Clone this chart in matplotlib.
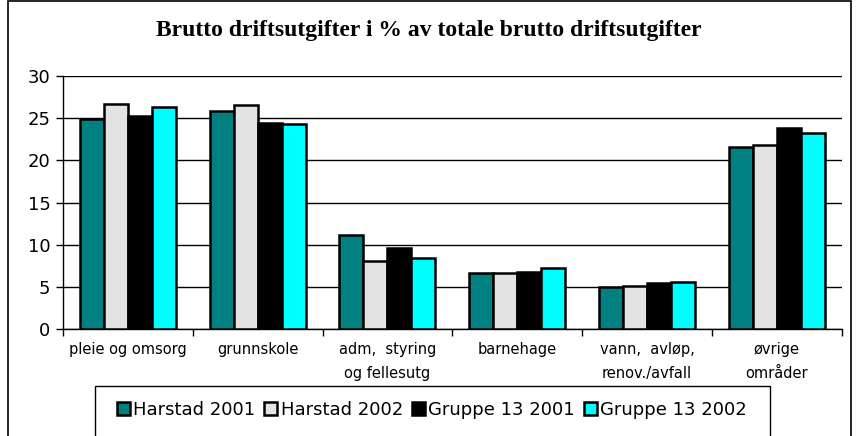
import matplotlib
matplotlib.use("Agg")
from matplotlib import pyplot as plt
from matplotlib.patches import Rectangle
import numpy as np

kategorier = ["pleie og omsorg", "grunnskole", "adm,  styring\nog fellesutg",
              "barnehage", "vann,  avløp,\nrenov./avfall", "øvrige\nområder"]
serier = ["Harstad 2001", "Harstad 2002", "Gruppe 13 2001", "Gruppe 13 2002"]
harstad_2001 = [24.9, 25.9, 11.2, 6.6, 5.0, 21.6]
harstad_2002 = [26.7, 26.6, 8.1, 6.6, 5.1, 21.8]
gruppe13_2001 = [25.2, 24.4, 9.6, 6.8, 5.4, 23.8]
gruppe13_2002 = [26.3, 24.3, 8.4, 7.2, 5.6, 23.2]
farger = ["#008080", "#E3E3E3", "#000000", "#00FFFF"]

fig = plt.figure(figsize=(8.58, 4.36), dpi=100)
ax = fig.add_axes([0.0734, 0.2454, 0.9076, 0.5803])

x = np.arange(len(kategorier))
bredde = 0.185
verdier = [harstad_2001, harstad_2002, gruppe13_2001, gruppe13_2002]
for i in range(4):
    ax.bar(x + (i - 1.5) * bredde, verdier[i], bredde, color=farger[i],
           edgecolor="black", linewidth=1.8, label=serier[i], zorder=3)

ax.set_xlim(-0.5, len(kategorier) - 0.5)
ax.set_ylim(0, 30)
ax.set_yticks(range(0, 31, 5))
ax.yaxis.grid(True, color="black", linewidth=1.0, zorder=0)
for s in ["top", "right"]:
    ax.spines[s].set_visible(False)
ax.spines["left"].set_linewidth(1.0)
ax.spines["bottom"].set_linewidth(1.0)
ax.tick_params(axis="y", direction="out", length=5, width=1,
               labelsize=13, pad=4)

# kategorietiketter mellom grensemerkene
ax.set_xticks(np.arange(-0.5, len(kategorier), 1.0))
ax.set_xticklabels([])
ax.tick_params(axis="x", direction="out", length=5, width=1)
ax.set_xticks(x, minor=True)
ax.set_xticklabels(kategorier, minor=True, fontsize=10.5, linespacing=1.75,
                   va="top")
ax.tick_params(axis="x", which="minor", length=0, pad=9)

fig.text(0.5, 0.93, "Brutto driftsutgifter i % av totale brutto driftsutgifter",
         ha="center", va="center", fontsize=17, fontweight="bold",
         family="Liberation Serif")

# ramme rundt figuren
fig.patches.append(Rectangle((8 / 858, -0.1), (851 - 8) / 858, 1.1 - 1 / 436,
                             transform=fig.transFigure, fill=False,
                             edgecolor="black", linewidth=1.2))
# ramme rundt forklaringen
fig.patches.append(Rectangle((95 / 858, -0.1), (770 - 95) / 858,
                             0.1 + (436 - 386) / 436,
                             transform=fig.transFigure, fill=False,
                             edgecolor="black", linewidth=1.0))

fig.legend(loc="center", bbox_to_anchor=(432 / 858, 1 - 410 / 436), ncol=4,
           frameon=False, fontsize=13, handlelength=0.7, handleheight=0.7,
           handletextpad=0.2, columnspacing=0.5, borderaxespad=0)

fig.savefig("out.png", dpi=100)
